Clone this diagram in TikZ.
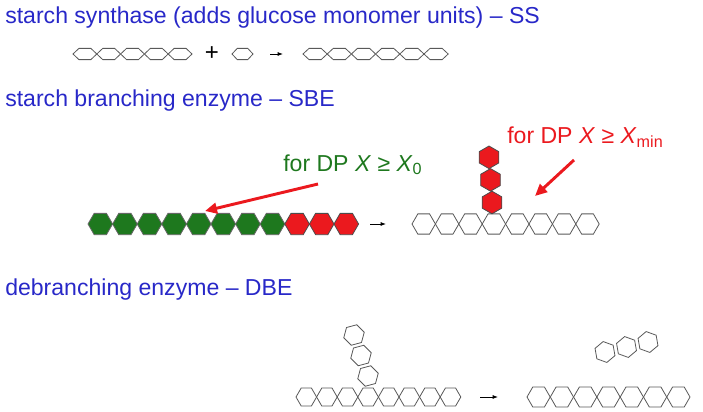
\documentclass[tikz,border=0pt]{standalone}
\usepackage{fontspec}
\setmainfont{Liberation Sans}
\usetikzlibrary{arrows.meta}

\definecolor{titleblue}{RGB}{40,40,200}
\definecolor{leafgreen}{RGB}{30,120,30}
\definecolor{hexred}{RGB}{235,25,30}

\tikzset{
  hex/.pic={\draw[pic actions] (-1,0) -- (-.5,.866) -- (.5,.866) -- (1,0) -- (.5,-.866) -- (-.5,-.866) -- cycle;},
  title/.style={anchor=west,inner sep=0pt,text=titleblue,font=\fontsize{17.3}{19}\selectfont},
  note/.style={anchor=west,inner sep=0pt,font=\fontsize{17.3}{19}\selectfont},
  ring/.style={draw=black!65,line width=0.6pt,fill=white},
  green ring/.style={draw=black!60,fill=leafgreen,line width=0.6pt},
  red ring/.style={draw=black!70,fill=hexred,line width=0.6pt},
  react/.style={-{Latex[length=4pt]},line width=0.7pt},
  pointer/.style={-{Triangle[length=9pt,width=8pt]},draw=hexred,line width=2.2pt}
}

\begin{document}
\begin{tikzpicture}[x=0.75pt,y=-0.75pt]
\useasboundingbox (0,0) rectangle (703,411);

% titles
\node[title] (ss) at (5,18) {starch synthase (adds glucose monomer units) -- SS};
\node[title] (sbe) at (5,101) {starch branching enzyme -- SBE};
\node[title] (dbe) at (5,290) {debranching enzyme -- DBE};

% SS
\foreach \i in {0,...,4}
  \pic[ring,xscale=11.9,yscale=6.5] at (84.9+23.8*\i,54) {hex};
\node (plus) at (212,54) {\fontsize{18}{18}\selectfont +};
\pic[ring,xscale=10.5,yscale=6.5] at (242.5,54) {hex};
\coordinate (ssa) at (270,54);
\coordinate (ssb) at (283,54);
\draw[react] (ssa) -- (ssb);
\foreach \i in {0,...,5}
  \pic[ring,xscale=12.1,yscale=6.5] at (315.1+24.2*\i,54) {hex};

% SBE, before
\foreach \i in {0,...,7}
  \pic[green ring,scale=12.3] at (100.3+24.6*\i,224) {hex};
\foreach \i in {8,9,10}
  \pic[red ring,scale=12.3] at (100.3+24.6*\i,224) {hex};
\coordinate (sbea) at (370,224);
\coordinate (sbeb) at (386,224);
\draw[react] (sbea) -- (sbeb);

% SBE, after
\foreach \i in {0,...,7}
  \pic[ring,scale=11.7] at (423.7+23.4*\i,224) {hex};
\foreach \j in {0,1,2}
  \pic[red ring,scale=11.3,rotate=90] at (492-1.5*\j,202.5-22.6*\j) {hex};

\node[note,text=leafgreen] (xzero) at (283,165) {for DP \textit{X} ≥ \textit{X}\textsubscript{0}};
\node[note,text=hexred] (xmin) at (507,137) {for DP \textit{X} ≥ \textit{X}\textsubscript{min}};
\coordinate (gtail) at (318,184);
\coordinate (gtip) at (205,211);
\coordinate (rtail) at (574,160);
\coordinate (rtip) at (535,196);
\draw[pointer] (gtail) -- (gtip);
\draw[pointer] (rtail) -- (rtip);

% DBE, before
\foreach \i in {0,...,7}
  \pic[ring,scale=10.3] at (306.3+20.6*\i,397) {hex};
\foreach \j in {0,1,2}
  \pic[ring,scale=10.6,rotate=75] at (368-7*\j,376-20.5*\j) {hex};
\coordinate (dbea) at (480,397);
\coordinate (dbeb) at (498,397);
\draw[react] (dbea) -- (dbeb);

% DBE, after
\foreach \i in {0,...,6}
  \pic[ring,scale=11.6] at (538.6+23.3*\i,397) {hex};
\foreach \j in {0,1,2}
  \pic[ring,scale=10.6,rotate=-20] at (605+21.5*\j,352-5*\j) {hex};
\end{tikzpicture}
\end{document}
